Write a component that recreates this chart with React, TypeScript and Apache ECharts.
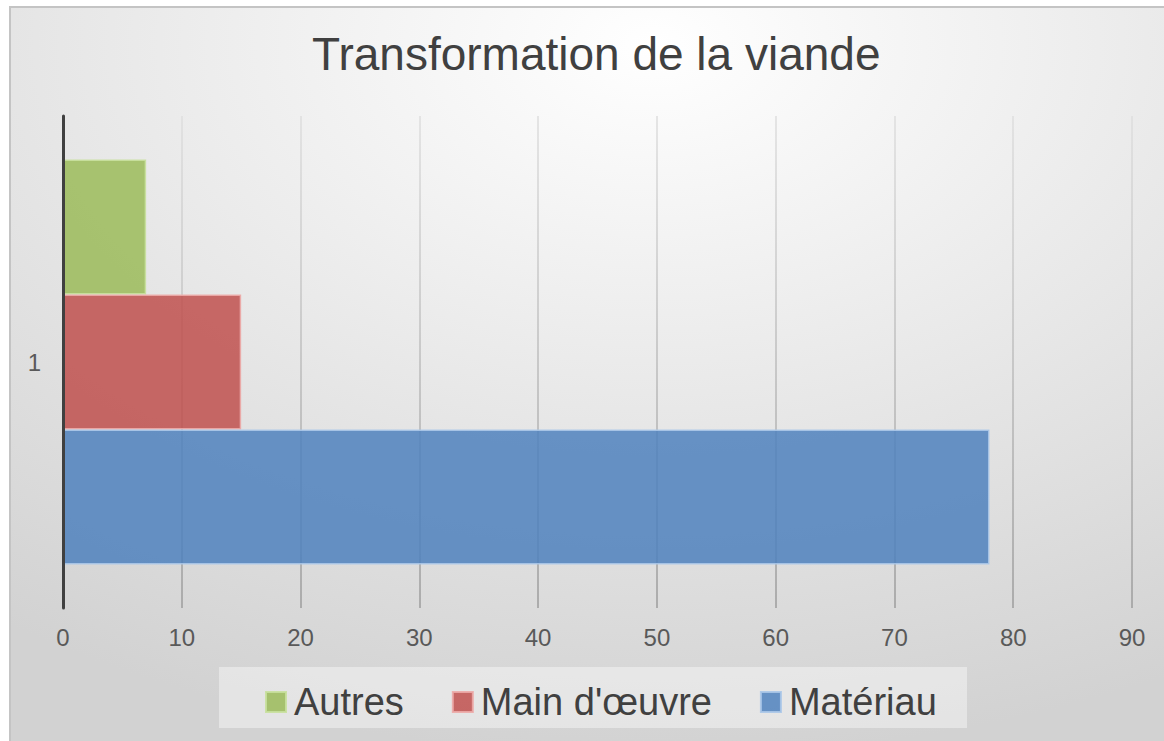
import React, { useEffect, useRef } from "react";
import * as echarts from "echarts";

const categories = ["1"];
const seriesNames = ["Autres", "Main d'œuvre", "Matériau"];
const autres = [7];
const mainDoeuvre = [15];
const materiau = [78];
const xTicks = [0, 10, 20, 30, 40, 50, 60, 70, 80, 90];

const FONT = "'Liberation Sans', Arial, sans-serif";

export default function App() {
  const ref = useRef<HTMLDivElement>(null);
  useEffect(() => {
    if (!ref.current) return;
    const chart = echarts.init(ref.current, undefined, { renderer: "svg" });
    const gridGrad = new echarts.graphic.LinearGradient(
      0, 116, 0, 608,
      [
        { offset: 0, color: "#dedede" },
        { offset: 1, color: "#9c9c9c" },
      ],
      true
    );
    const option = {
      animation: false,
      backgroundColor: "#ffffff",
      textStyle: { fontFamily: FONT },
      graphic: [
        {
          type: "rect",
          z: -10,
          silent: true,
          shape: { x: 10, y: 7, width: 1170, height: 750 },
          style: {
            fill: new echarts.graphic.RadialGradient(0.55, 0.05, 0.95, [
              { offset: 0, color: "#ffffff" },
              { offset: 1, color: "#d2d2d2" },
            ]),
            stroke: "#c4c4c4",
            lineWidth: 2,
          },
        },
        {
          type: "rect",
          z: -5,
          silent: true,
          shape: { x: 219, y: 667, width: 748, height: 61 },
          style: { fill: "rgba(255,255,255,0.4)" },
        },
      ],
      title: {
        text: "Transformation de la viande",
        left: 307,
        top: 26,
        textStyle: {
          fontFamily: FONT,
          fontSize: 46,
          fontWeight: "normal",
          color: "#404040",
        },
      },
      legend: {
        data: seriesNames,
        left: 260,
        top: 677,
        itemWidth: 20,
        itemHeight: 20,
        itemGap: 48,
        icon: "rect",
        textStyle: {
          fontFamily: FONT,
          fontSize: 38,
          lineHeight: 40,
          color: "#404040",
          padding: [0, 0, 0, 3],
        },
      },
      grid: { left: 63, right: 32, top: 116, bottom: 133, containLabel: false },
      xAxis: {
        type: "value",
        min: xTicks[0],
        max: xTicks[xTicks.length - 1],
        interval: 10,
        axisLine: { show: false },
        axisTick: { show: false },
        axisLabel: { fontSize: 24, color: "#595959", margin: 17, fontFamily: FONT },
        splitLine: { show: true, lineStyle: { color: gridGrad, width: 1.5 } },
      },
      yAxis: {
        type: "category",
        data: categories,
        z: 5,
        axisLine: { show: true, lineStyle: { color: "#404040", width: 3 } },
        axisTick: { show: false },
        axisLabel: { fontSize: 24, color: "#595959", margin: 22, fontFamily: FONT },
      },
      series: [
        {
          name: seriesNames[0],
          type: "bar",
          data: autres,
          barGap: "0%",
          barCategoryGap: "17.7%",
          itemStyle: {
            color: "rgba(155,187,89,0.85)",
            borderColor: "rgba(200,224,156,0.9)",
            borderWidth: 1.5,
          },
        },
        {
          name: seriesNames[1],
          type: "bar",
          data: mainDoeuvre,
          barGap: "0%",
          barCategoryGap: "17.7%",
          itemStyle: {
            color: "rgba(192,80,77,0.85)",
            borderColor: "rgba(236,170,167,0.9)",
            borderWidth: 1.5,
          },
        },
        {
          name: seriesNames[2],
          type: "bar",
          data: materiau,
          barGap: "0%",
          barCategoryGap: "17.7%",
          itemStyle: {
            color: "rgba(79,129,189,0.85)",
            borderColor: "rgba(170,198,232,0.9)",
            borderWidth: 1.5,
          },
        },
      ],
    };
    chart.setOption(option as any);
    return () => chart.dispose();
  }, []);
  return (
    <div
      ref={ref}
      style={{ position: "fixed", left: 0, top: 0, width: 1164, height: 741 }}
    />
  );
}
